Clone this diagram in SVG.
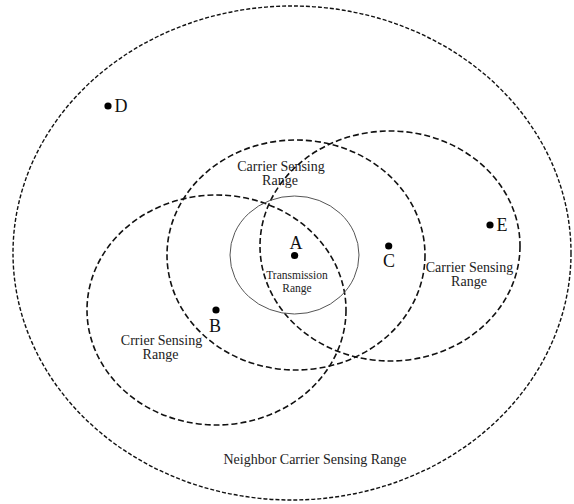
<svg xmlns="http://www.w3.org/2000/svg" width="574" height="504" viewBox="0 0 574 504">
<style>
.bg{fill:#fff}
.range{fill:none;stroke:#111;stroke-width:1.6;stroke-dasharray:6 3}
.outer{fill:none;stroke:#111;stroke-width:1.4;stroke-dasharray:4 2}
.tx{fill:none;stroke:#555;stroke-width:1}
.lbl{font-family:"Liberation Serif","Times New Roman",serif;font-size:14px;fill:#222;text-anchor:middle}
.small{font-family:"Liberation Serif","Times New Roman",serif;font-size:11.5px;fill:#222;text-anchor:middle}
.node{font-family:"Liberation Serif","Times New Roman",serif;font-size:18px;fill:#111}
.dot{fill:#000}
</style>
<rect class="bg" x="0" y="0" width="574" height="504"/>
<g id="neighbor-range">
<ellipse class="outer" cx="292" cy="253" rx="279" ry="247"/>
<text class="lbl" x="315" y="464">Neighbor Carrier Sensing Range</text>
</g>
<g id="range-B">
<ellipse class="range" cx="216.5" cy="310" rx="129.5" ry="115"/>
<text class="lbl" x="161.5" y="345">Crrier Sensing</text>
<text class="lbl" x="160.5" y="359">Range</text>
</g>
<g id="range-A">
<ellipse class="range" cx="296" cy="255" rx="129" ry="115"/>
<text class="lbl" x="281" y="171">Carrier Sensing</text>
<text class="lbl" x="280" y="185">Range</text>
</g>
<g id="range-C">
<ellipse class="range" cx="390" cy="246" rx="130" ry="115"/>
<text class="lbl" x="469.5" y="272">Carrier Sensing</text>
<text class="lbl" x="469" y="286">Range</text>
</g>
<g id="transmission-range">
<ellipse class="tx" cx="294.5" cy="255" rx="64.5" ry="59"/>
<text class="small" x="297" y="279">Transmission</text>
<text class="small" x="297" y="292">Range</text>
</g>
<g id="node-A">
<circle class="dot" cx="294.6" cy="255.5" r="3.6"/>
<text class="node" x="296" y="249" text-anchor="middle">A</text>
</g>
<g id="node-B">
<circle class="dot" cx="216" cy="310" r="3.6"/>
<text class="node" x="215" y="332" text-anchor="middle">B</text>
</g>
<g id="node-C">
<circle class="dot" cx="388.7" cy="246" r="3.6"/>
<text class="node" x="389" y="267" text-anchor="middle">C</text>
</g>
<g id="node-D">
<circle class="dot" cx="108" cy="106" r="3.6"/>
<text class="node" x="114.5" y="112">D</text>
</g>
<g id="node-E">
<circle class="dot" cx="490" cy="225" r="3.6"/>
<text class="node" x="496.5" y="231">E</text>
</g>
</svg>
